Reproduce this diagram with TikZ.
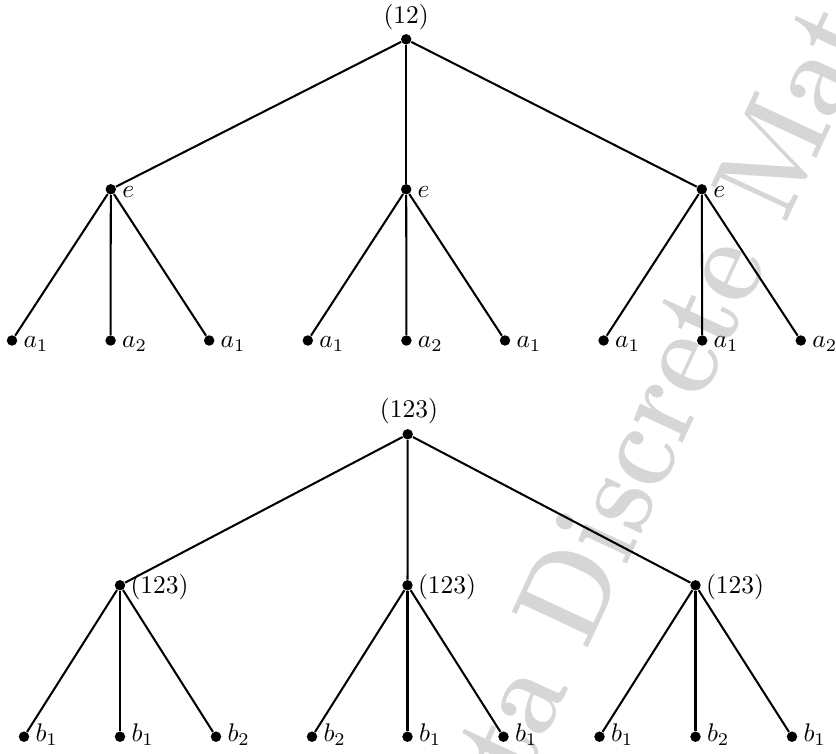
\documentclass[tikz,border=0pt]{standalone}
\begin{document}
\begin{tikzpicture}[x=0.3922pt,y=-0.3922pt,
  dotnode/.style={circle,fill=black,inner sep=0pt,minimum size=4.1pt},
  edge/.style={line width=0.8pt},
  lbl/.style={inner sep=0pt,anchor=base west},
  toplbl/.style={inner sep=0pt,anchor=base},
  wm/.style={inner sep=0pt,anchor=base west,text=black!16,
    font=\fontsize{48pt}{50pt}\selectfont\bfseries}]
\useasboundingbox (0,0) rectangle (836,753);
% watermark
\begin{scope}
  \clip (0,0) rectangle (836,753);
  \node[wm,rotate=65,xscale=0.87] (wmark) at (525,783) {ta Discrete Mat};
\end{scope}
% ---------- first tree ----------
\node[dotnode] (A) at (406.2,39.3) {};
\node[toplbl] (Alab) at (406.2,24) {$(12)$};
\foreach \i/\x in {1/110.8,2/406.2,3/701.8}{
  \node[dotnode] (A\i) at (\x,189.3) {};
  \node[lbl,shift={(11,8)}] (A\i lab) at (A\i) {$e$};
  \draw[edge] (A) -- (A\i);
}
\foreach \p/\j/\x/\t in {1/1/12/a_1,1/2/110.6/a_2,1/3/209.2/a_1,
                         2/1/307.8/a_1,2/2/406.4/a_2,2/3/505/a_1,
                         3/1/603.6/a_1,3/2/702.2/a_1,3/3/800.8/a_2}{
  \node[dotnode] (A\p\j) at (\x,340.5) {};
  \node[lbl,shift={(11,7)}] (A\p\j lab) at (A\p\j) {$\t$};
  \draw[edge] (A\p) -- (A\p\j);
}
% ---------- second tree ----------
\node[dotnode] (B) at (407.7,434.3) {};
\node[toplbl] (Blab) at (409,417.3) {$(123)$};
\foreach \i/\x in {1/120,2/407.5,3/695.5}{
  \node[dotnode] (B\i) at (\x,585.3) {};
  \node[lbl,shift={(10,8.5)}] (B\i lab) at (B\i) {$(123)$};
  \draw[edge] (B) -- (B\i);
}
\foreach \p/\j/\x/\t in {1/1/24/b_1,1/2/120/b_1,1/3/216/b_2,
                         2/1/312/b_2,2/2/407.5/b_1,2/3/503.5/b_1,
                         3/1/599.5/b_1,3/2/695.5/b_2,3/3/792/b_1}{
  \node[dotnode] (B\p\j) at (\x,736.7) {};
  \node[lbl,shift={(11,4.5)}] (B\p\j lab) at (B\p\j) {$\t$};
  \draw[edge] (B\p) -- (B\p\j);
}
\end{tikzpicture}
\end{document}
